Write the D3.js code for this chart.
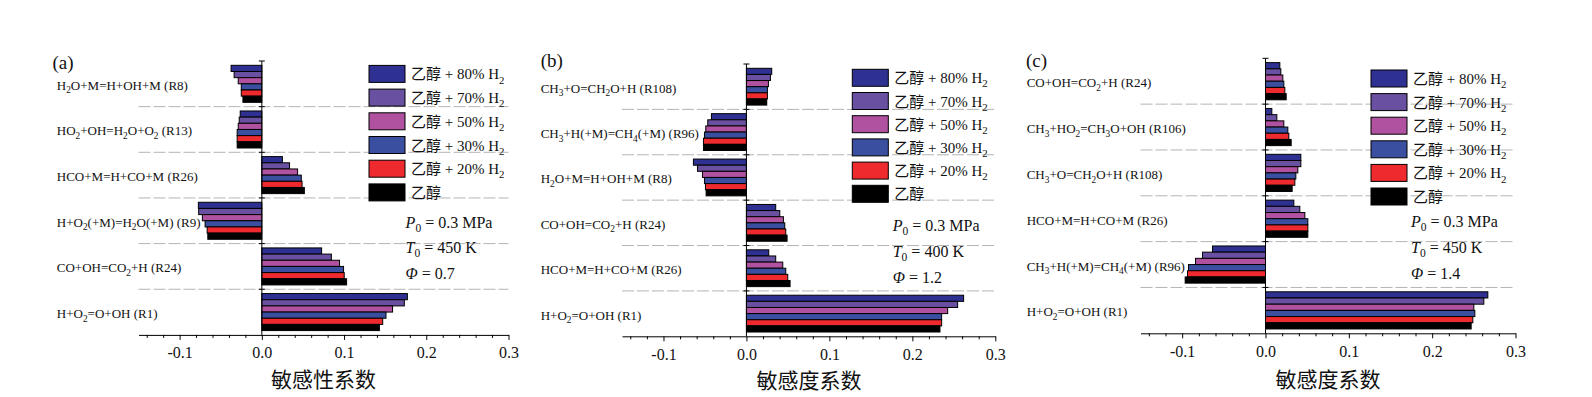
<!DOCTYPE html>
<html>
<head>
<meta charset="utf-8">
<script src="https://cdn.jsdelivr.net/npm/d3@7"></script>
<style>
  body { margin: 0; background: #fff; }
  text { font-family: "Liberation Serif", "Noto Sans CJK SC", serif; fill: #111; }
</style>
</head>
<body>
<script>
// series, top to bottom inside each reaction
const seriesNames = ["乙醇 + 80% H_2", "乙醇 + 70% H_2", "乙醇 + 50% H_2", "乙醇 + 30% H_2", "乙醇 + 20% H_2", "乙醇"];
const seriesColors = ["#2e3192", "#6a50a0", "#b0529f", "#3b4fa0", "#ee2a2e", "#000000"];
const tickValues = [-0.1, 0, 0.1, 0.2, 0.3];

// (a)
const reactionsA = ["H_2O+M=H+OH+M (R8)", "HO_2+OH=H_2O+O_2 (R13)", "HCO+M=H+CO+M (R26)",
    "H+O_2(+M)=H_2O(+M) (R9)", "CO+OH=CO_2+H (R24)", "H+O_2=O+OH (R1)"];
const valuesA = [
    [-0.0374, -0.0337, -0.0287, -0.025, -0.025, -0.023],
    [-0.0263, -0.0275, -0.0287, -0.030, -0.030, -0.030],
    [0.025, 0.0337, 0.0435, 0.048, 0.0489, 0.0517],
    [-0.0772, -0.0768, -0.0723, -0.069, -0.0665, -0.0657],
    [0.0727, 0.0846, 0.0945, 0.0994, 0.1002, 0.1031],
    [0.177, 0.1733, 0.159, 0.151, 0.147, 0.143]
];
const conditionsA = ["*P*_0 = 0.3 MPa", "*T*_0 = 450 K", "*Φ* = 0.7"];

// (b)
const reactionsB = ["CH_3+O=CH_2O+H (R108)", "CH_3+H(+M)=CH_4(+M) (R96)", "H_2O+M=H+OH+M (R8)",
    "CO+OH=CO_2+H (R24)", "HCO+M=H+CO+M (R26)", "H+O_2=O+OH (R1)"];
const valuesB = [
    [0.0305, 0.0289, 0.0265, 0.0253, 0.0253, 0.0245],
    [-0.0422, -0.0466, -0.049, -0.0506, -0.0518, -0.0518],
    [-0.0639, -0.059, -0.053, -0.0506, -0.0494, -0.0486],
    [0.0353, 0.0402, 0.0446, 0.0462, 0.0474, 0.049],
    [0.0269, 0.0353, 0.0438, 0.0474, 0.0498, 0.0526],
    [0.2618, 0.2546, 0.2426, 0.2353, 0.2353, 0.2333]
];
const conditionsB = ["*P*_0 = 0.3 MPa", "*T*_0 = 400 K", "*Φ* = 1.2"];

// (c)
const reactionsC = ["CO+OH=CO_2+H (R24)", "CH_3+HO_2=CH_3O+OH (R106)", "CH_3+O=CH_2O+H (R108)",
    "HCO+M=H+CO+M (R26)", "CH_3+H(+M)=CH_4(+M) (R96)", "H+O_2=O+OH (R1)"];
const valuesC = [
    [0.0172, 0.0184, 0.0208, 0.022, 0.0232, 0.0248],
    [0.0076, 0.0136, 0.022, 0.0268, 0.028, 0.0308],
    [0.0424, 0.0424, 0.0388, 0.0364, 0.0352, 0.032],
    [0.034, 0.0412, 0.0472, 0.0508, 0.0508, 0.0508],
    [-0.0636, -0.0756, -0.084, -0.0924, -0.0936, -0.0964],
    [0.2668, 0.262, 0.25, 0.2512, 0.2488, 0.2468]
];
const conditionsC = ["*P*_0 = 0.3 MPa", "*T*_0 = 450 K", "*Φ* = 1.4"];

// layout per panel
const panels = [
    {tag: "(a)", reactions: reactionsA, values: valuesA, conditions: conditionsA, title: "敏感性系数",
     x0: 138.5, x1: 508.5, yTop: 61, yBottom: 334.9, labelX: 56.8, tagX: 52.4, tagY: 68.7,
     legendX: 369, legendY: 65.4, legendStep: 23.7, condX: 405.6, condY: [227.6, 253, 278.6],
     titleX: 323.5, titleY: 387.3},
    {tag: "(b)", reactions: reactionsB, values: valuesB, conditions: conditionsB, title: "敏感度系数",
     x0: 622, x1: 995.3, yTop: 64, yBottom: 336.3, labelX: 540.7, tagX: 540.7, tagY: 66.7,
     legendX: 852.3, legendY: 69.3, legendStep: 23.2, condX: 892.7, condY: [230.7, 257, 283],
     titleX: 809, titleY: 388},
    {tag: "(c)", reactions: reactionsC, values: valuesC, conditions: conditionsC, title: "敏感度系数",
     x0: 1140.5, x1: 1515.5, yTop: 58.3, yBottom: 333.3, labelX: 1026.7, tagX: 1026, tagY: 66.7,
     legendX: 1371, legendY: 70, legendStep: 23.6, condX: 1411, condY: [226.7, 253, 279.3],
     titleX: 1328, titleY: 386.7}
];

const svg = d3.select("body").append("svg")
    .attr("width", 1592)
    .attr("height", 397);

// "_x" -> subscript char, "*..*" -> italic
function rich(sel, str, size) {
    const parts = str.split(/(\*[^*]+\*|_.)/).filter(s => s.length);
    let down = false;
    parts.forEach(p => {
        const t = sel.append("tspan");
        if (p[0] === "_") {
            t.text(p.slice(1)).attr("font-size", size * 0.72).attr("dy", size * 0.28);
            down = true;
        } else {
            if (down) { t.attr("dy", -size * 0.28); down = false; }
            if (p[0] === "*") t.attr("font-style", "italic").text(p.slice(1, -1));
            else t.text(p);
        }
    });
}

const fmt = d => d3.format(".1f")(d).replace("−", "-");
const minorTicks = d3.range(-7, 16).filter(i => i % 5 !== 0).map(i => i * 0.02);

panels.forEach(p => {
    const g = svg.append("g");

    const x = d3.scaleLinear().domain([-0.15, 0.3]).range([p.x0, p.x1]);
    const y = d3.scaleBand().domain(p.reactions).range([p.yTop, p.yBottom]).padding(0);
    const ys = d3.scaleBand().domain(seriesNames).range([0, y.bandwidth()])
        .paddingInner(0).paddingOuter(0.7);

    // dashed separators
    g.selectAll(".sep")
        .data(p.reactions.slice(1))
        .enter().append("line")
        .attr("x1", p.x0).attr("x2", p.x1)
        .attr("y1", d => y(d)).attr("y2", d => y(d))
        .attr("stroke", "#b4b4b4")
        .attr("stroke-dasharray", "12,3");

    // bars
    const rows = g.selectAll(".row")
        .data(p.reactions.map((r, i) => ({r: r, v: p.values[i]})))
        .enter().append("g")
        .attr("transform", d => `translate(0,${y(d.r)})`);

    rows.selectAll("rect")
        .data(d => d.v.map((v, j) => ({s: seriesNames[j], v: v, c: seriesColors[j]})))
        .enter().append("rect")
        .attr("x", d => x(Math.min(0, d.v)))
        .attr("width", d => Math.abs(x(d.v) - x(0)))
        .attr("y", d => ys(d.s))
        .attr("height", ys.bandwidth())
        .attr("fill", d => d.c)
        .attr("stroke", "#000")
        .attr("stroke-width", 1);

    // reaction labels
    rows.append("text")
        .attr("x", p.labelX)
        .attr("y", y.bandwidth() / 2 + 6)
        .attr("font-size", 13)
        .each(function(d) { rich(d3.select(this), d.r, 13); });

    // zero axis with boundary ticks
    g.append("line")
        .attr("x1", x(0)).attr("x2", x(0))
        .attr("y1", p.yTop).attr("y2", p.yBottom)
        .attr("stroke", "#000");
    g.selectAll(".yt")
        .data(p.reactions)
        .enter().append("line")
        .attr("x1", x(0) - 3).attr("x2", x(0) + 3)
        .attr("y1", d => y(d)).attr("y2", d => y(d))
        .attr("stroke", "#000");

    // bottom axis
    const ax = g.append("g")
        .attr("transform", `translate(0,${p.yBottom})`)
        .call(d3.axisBottom(x).tickValues(tickValues).tickFormat(fmt)
            .tickSize(5).tickSizeOuter(0).tickPadding(7));
    ax.selectAll("text")
        .attr("font-size", 16)
        .attr("font-family", "Liberation Serif")
        .attr("fill", "#111");
    ax.select(".domain").attr("stroke", "#000");
    g.append("g")
        .attr("transform", `translate(0,${p.yBottom})`)
        .call(d3.axisBottom(x).tickValues(minorTicks).tickFormat("").tickSize(3).tickSizeOuter(0))
        .select(".domain").remove();

    // axis title
    g.append("text")
        .attr("x", p.titleX).attr("y", p.titleY)
        .attr("text-anchor", "middle")
        .attr("font-size", 21)
        .attr("font-family", "Noto Sans CJK SC")
        .text(p.title);

    // panel tag
    g.append("text")
        .attr("x", p.tagX).attr("y", p.tagY)
        .attr("font-size", 19)
        .text(p.tag);

    // legend
    const leg = g.selectAll(".leg")
        .data(seriesNames)
        .enter().append("g")
        .attr("transform", (d, i) => `translate(${p.legendX},${p.legendY + i * p.legendStep})`);
    leg.append("rect")
        .attr("width", 36).attr("height", 17)
        .attr("fill", (d, i) => seriesColors[i])
        .attr("stroke", "#000");
    leg.append("text")
        .attr("x", 42).attr("y", 14)
        .attr("font-size", 15)
        .each(function(d) { rich(d3.select(this), d, 15); });

    // conditions
    g.selectAll(".cond")
        .data(p.conditions)
        .enter().append("text")
        .attr("x", p.condX)
        .attr("y", (d, i) => p.condY[i])
        .attr("font-size", 16)
        .each(function(d) { rich(d3.select(this), d, 16); });
});
</script>
</body>
</html>
